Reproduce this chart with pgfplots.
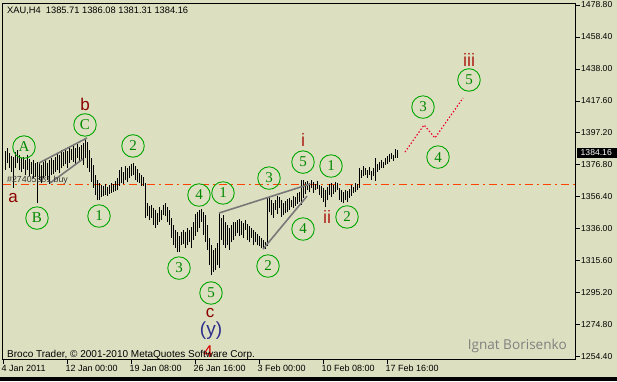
\documentclass[border=0pt]{standalone}
\usepackage{pgfplots}
\pgfplotsset{compat=1.18}
\usepackage{pgfplotstable}
\usepackage{fontspec}
\setmainfont{Liberation Sans}
\newfontfamily\seriffont{Liberation Serif}
\newfontfamily\opensans{Open Sans}
\definecolor{bg}{RGB}{221,224,192}
\definecolor{orred}{RGB}{255,69,0}
\definecolor{cgreen}{RGB}{0,165,0}
\definecolor{tgreen}{RGB}{0,135,0}
\definecolor{maroonw}{RGB}{140,0,0}
\definecolor{brickw}{RGB}{175,35,25}
\definecolor{navyw}{RGB}{45,45,140}
\definecolor{projred}{RGB}{235,0,50}
\definecolor{chgray}{RGB}{120,120,120}

\pgfplotstableread{
i lo hi
0 1373.5 1385.7
1 1378.0 1387.6
2 1374.8 1384.4
3 1372.3 1382.5
4 1362.1 1381.8
5 1374.8 1385.0
6 1378.0 1386.3
7 1373.5 1383.1
8 1372.3 1381.2
9 1374.2 1381.8
10 1370.4 1379.9
11 1373.5 1383.1
12 1369.7 1380.6
13 1371.0 1378.6
14 1368.4 1379.9
15 1369.1 1378.0
16 1352.5 1378.6
17 1367.2 1378.0
18 1365.2 1376.7
19 1368.4 1378.6
20 1369.7 1379.9
21 1367.2 1378.0
22 1364.6 1379.9
23 1370.4 1381.2
24 1371.0 1379.9
25 1372.3 1381.8
26 1373.5 1384.4
27 1371.6 1383.1
28 1374.8 1386.3
29 1376.1 1385.0
30 1377.4 1386.9
31 1374.8 1385.7
32 1378.0 1388.2
33 1379.9 1386.9
34 1378.6 1388.9
35 1376.7 1387.6
36 1381.2 1390.1
37 1378.6 1388.2
38 1379.9 1389.5
39 1376.7 1390.8
40 1381.2 1394.0
41 1374.8 1391.4
42 1372.3 1386.3
43 1365.9 1381.2
44 1362.1 1376.7
45 1357.6 1370.4
46 1354.4 1367.2
47 1354.4 1365.2
48 1356.3 1364.0
49 1357.0 1363.3
50 1357.6 1364.6
51 1357.0 1362.7
52 1358.2 1364.0
53 1358.9 1365.2
54 1359.5 1364.6
55 1360.1 1366.5
56 1360.8 1368.4
57 1363.3 1373.5
58 1365.2 1375.5
59 1364.6 1372.3
60 1367.2 1376.1
61 1365.9 1374.8
62 1368.4 1376.1
63 1369.7 1377.4
64 1370.4 1378.0
65 1367.2 1376.1
66 1365.9 1374.2
67 1365.2 1371.6
68 1363.3 1370.4
69 1363.3 1369.1
70 1342.9 1365.2
71 1344.2 1352.5
72 1341.6 1350.6
73 1342.9 1351.2
74 1338.5 1349.3
75 1336.5 1348.0
76 1338.5 1346.1
77 1340.4 1349.9
78 1341.6 1348.0
79 1344.8 1351.2
80 1344.2 1352.5
81 1340.4 1349.9
82 1338.5 1348.0
83 1330.2 1342.9
84 1325.7 1338.5
85 1323.8 1335.3
86 1321.2 1334.0
87 1321.2 1331.4
88 1325.7 1334.0
89 1326.3 1335.3
90 1323.8 1334.0
91 1325.7 1336.5
92 1327.6 1335.3
93 1323.8 1337.2
94 1328.9 1340.4
95 1331.4 1345.5
96 1334.0 1346.7
97 1336.5 1348.0
98 1340.4 1348.7
99 1332.1 1346.7
100 1327.6 1344.8
101 1322.5 1338.5
102 1312.9 1330.2
103 1306.5 1325.7
104 1308.5 1322.5
105 1309.7 1323.8
106 1312.9 1327.0
107 1311.0 1346.1
108 1328.9 1342.9
109 1325.7 1344.8
110 1323.8 1340.4
111 1325.7 1338.5
112 1322.5 1336.5
113 1327.6 1338.5
114 1328.9 1340.4
115 1331.4 1340.4
116 1333.3 1341.6
117 1331.4 1342.3
118 1332.1 1341.0
119 1330.2 1339.7
120 1335.3 1341.6
121 1328.9 1339.1
122 1327.6 1337.8
123 1330.2 1336.5
124 1325.7 1335.3
125 1327.6 1334.0
126 1325.7 1332.7
127 1325.1 1331.4
128 1323.8 1330.2
129 1323.8 1328.9
130 1323.1 1327.6
131 1325.1 1355.7
132 1346.7 1356.3
133 1344.8 1354.4
134 1342.9 1352.5
135 1348.0 1354.4
136 1345.5 1357.0
137 1349.3 1356.3
138 1343.6 1354.4
139 1344.8 1352.5
140 1346.1 1353.8
141 1346.7 1355.0
142 1348.0 1355.7
143 1349.9 1354.4
144 1349.3 1357.0
145 1350.6 1356.3
146 1351.8 1358.9
147 1353.1 1359.5
148 1351.2 1367.2
149 1355.7 1367.2
150 1358.2 1365.9
151 1360.8 1366.5
152 1359.5 1365.2
153 1362.1 1367.2
154 1358.9 1365.9
155 1360.8 1364.6
156 1361.4 1366.5
157 1357.6 1364.0
158 1355.7 1363.3
159 1353.1 1362.1
160 1349.9 1360.8
161 1354.4 1362.7
162 1357.6 1364.6
163 1356.3 1365.2
164 1358.2 1364.0
165 1359.5 1365.9
166 1360.8 1365.2
167 1354.4 1362.1
168 1353.1 1360.8
169 1352.5 1359.5
170 1354.4 1360.8
171 1353.1 1360.1
172 1355.7 1361.4
173 1357.0 1364.0
174 1358.9 1362.7
175 1359.5 1365.2
176 1360.8 1364.6
177 1362.1 1374.8
178 1368.4 1373.5
179 1369.7 1376.1
180 1370.4 1374.8
181 1368.4 1373.5
182 1370.4 1375.5
183 1367.2 1372.9
184 1369.7 1374.8
185 1366.5 1381.2
186 1372.3 1377.4
187 1373.5 1378.6
188 1374.8 1379.9
189 1374.8 1378.6
190 1376.7 1381.2
191 1377.4 1382.5
192 1378.6 1383.7
193 1380.6 1384.4
194 1379.3 1383.1
195 1381.2 1386.9
196 1381.31 1386.08
}\bars

\begin{document}
\begin{tikzpicture}[x=1pt,y=1pt]
\fill[bg] (0,0) rectangle (617,381);
\fill[black] (0,0) rectangle (617,4.3);
\useasboundingbox (0,0) rectangle (617,381);
\begin{axis}[
  at={(2.7pt,21.7pt)}, anchor=south west, scale only axis,
  width=572.3pt, height=356pt,
  xmin=-1.15, xmax=285, ymin=1252.8, ymax=1479.9,
  clip=false,
  axis background/.style={fill=bg},
  axis line style={black, line width=0.9pt},
  tick style={black, line width=0.9pt},
  tick align=outside, major tick length=4.5pt,
  xtick pos=left, ytick pos=right, yticklabel pos=right,
  xtick={-1,31,63,95,127,159,191},
  xticklabels={4 Jan 2011,12 Jan 00:00,19 Jan 08:00,26 Jan 16:00,3 Feb 00:00,10 Feb 08:00,17 Feb 16:00},
  ytick={1254.4,1274.8,1295.2,1315.6,1336.0,1356.4,1376.8,1397.2,1417.6,1438.0,1458.4,1478.8},
  yticklabels={1254.40,1274.80,1295.20,1315.60,1336.00,1356.40,1376.80,1397.20,1417.60,1438.00,1458.40,1478.80},
  xticklabel style={font=\fontsize{9}{10}\selectfont, anchor=north west, inner sep=0pt, xshift=-1.5pt, yshift=-1pt},
  yticklabel style={font=\fontsize{8.6}{10}\selectfont, anchor=west, inner sep=0pt, xshift=1.5pt},
]
% order line
\addplot[orred, line width=1pt, dash pattern=on 8pt off 4pt on 2pt off 4pt, forget plot] coordinates {(-1.15,1364.2) (285,1364.2)};
% price bars (high-low)
\addplot[draw=none, mark=none, forget plot,
  error bars/.cd, y dir=plus, y explicit, error mark=none,
  error bar style={draw=black, line width=0.95pt, solid}]
  table[x=i, y=lo, y error plus expr=\thisrow{hi}-\thisrow{lo}] {\bars};
% channel lines
\addplot[chgray, line width=1.6pt, forget plot] coordinates {(17,1378.0) (41,1394.0)};
\addplot[chgray, line width=1.6pt, forget plot] coordinates {(22.5,1365.2) (39,1380.6)};
\addplot[chgray, line width=1.6pt, forget plot] coordinates {(107,1346.1) (152.5,1364.6)};
\addplot[chgray, line width=1.6pt, forget plot] coordinates {(129,1323.1) (151,1356.9)};
% projection
\addplot[projred, line width=1.2pt, dash pattern=on 1.4pt off 2pt, forget plot] coordinates {(200,1385.0) (209.5,1402.3) (215,1394.0) (229,1419.5)};

\node[anchor=west, text=black!80, font=\fontsize{8.8}{10}\selectfont, inner sep=0pt] at (axis cs:1,1367.2) {\#27405881 buy};

% wave circles
\tikzset{wc/.style={circle, draw=cgreen, line width=0.9pt, minimum size=22.5pt, inner sep=0pt, text=tgreen, font=\seriffont\fontsize{15}{15}\selectfont}}
\node[wc] at (axis cs:9.5,1388.2) {A};
\node[wc] at (axis cs:16,1342.9) {B};
\node[wc] at (axis cs:40,1402.3) {C};
\node[wc] at (axis cs:47,1344.2) {1};
\node[wc] at (axis cs:64,1388.9) {2};
\node[wc] at (axis cs:87,1311.0) {3};
\node[wc] at (axis cs:97,1357.6) {4};
\node[wc] at (axis cs:103,1295.1) {5};
\node[wc] at (axis cs:109,1358.9) {1};
\node[wc] at (axis cs:131.5,1312.3) {2};
\node[wc] at (axis cs:132,1368.4) {3};
\node[wc] at (axis cs:149,1335.9) {4};
\node[wc] at (axis cs:149,1378.6) {5};
\node[wc] at (axis cs:163,1376.1) {1};
\node[wc] at (axis cs:171,1343.6) {2};
\node[wc] at (axis cs:209,1413.7) {3};
\node[wc] at (axis cs:216.5,1381.8) {4};
\node[wc] at (axis cs:232,1431.0) {5};

% wave letters
\node[text=maroonw, font=\fontsize{17}{17}\selectfont, inner sep=0pt] at (axis cs:4,1355.7) {a};
\node[text=maroonw, font=\fontsize{17}{17}\selectfont, inner sep=0pt] at (axis cs:40,1415.6) {b};
\node[text=maroonw, font=\fontsize{17}{17}\selectfont, inner sep=0pt] at (axis cs:102.5,1282.3) {c};
\node[text=navyw, font=\fontsize{19}{19}\selectfont, inner sep=0pt] at (axis cs:103,1270.8) {(y)};
\node[text=red!85!black, font=\fontsize{17}{17}\selectfont, inner sep=0pt] at (axis cs:101.5,1257.4) {4};
\node[text=brickw, font=\fontsize{18}{18}\selectfont, inner sep=0pt] at (axis cs:149,1392.7) {i};
\node[text=brickw, font=\fontsize{18}{18}\selectfont, inner sep=0pt] at (axis cs:161,1343.6) {ii};
\node[text=brickw, font=\fontsize{18}{18}\selectfont, inner sep=0pt] at (axis cs:232,1443.7) {iii};
\end{axis}
% texts
\node[anchor=west, inner sep=0pt, font=\fontsize{9.3}{10}\selectfont] at (7,370) {XAU,H4\ \ 1385.71 1386.08 1381.31 1384.16};
\node[anchor=west, inner sep=0pt, font=\fontsize{10}{11}\selectfont] at (7,26) {Broco Trader, \textcopyright\ 2001-2010 MetaQuotes Software Corp.};
\node[anchor=east, inner sep=0pt, text=black!50, font=\opensans\fontsize{13.6}{14}\selectfont] at (567,35) {Ignat Borisenko};
% current price box
\fill[black] (577,223) rectangle (617,233);
\node[anchor=west, inner sep=0pt, text=white, font=\fontsize{8.6}{10}\selectfont] at (580.5,228) {1384.16};
\end{tikzpicture}
\end{document}
